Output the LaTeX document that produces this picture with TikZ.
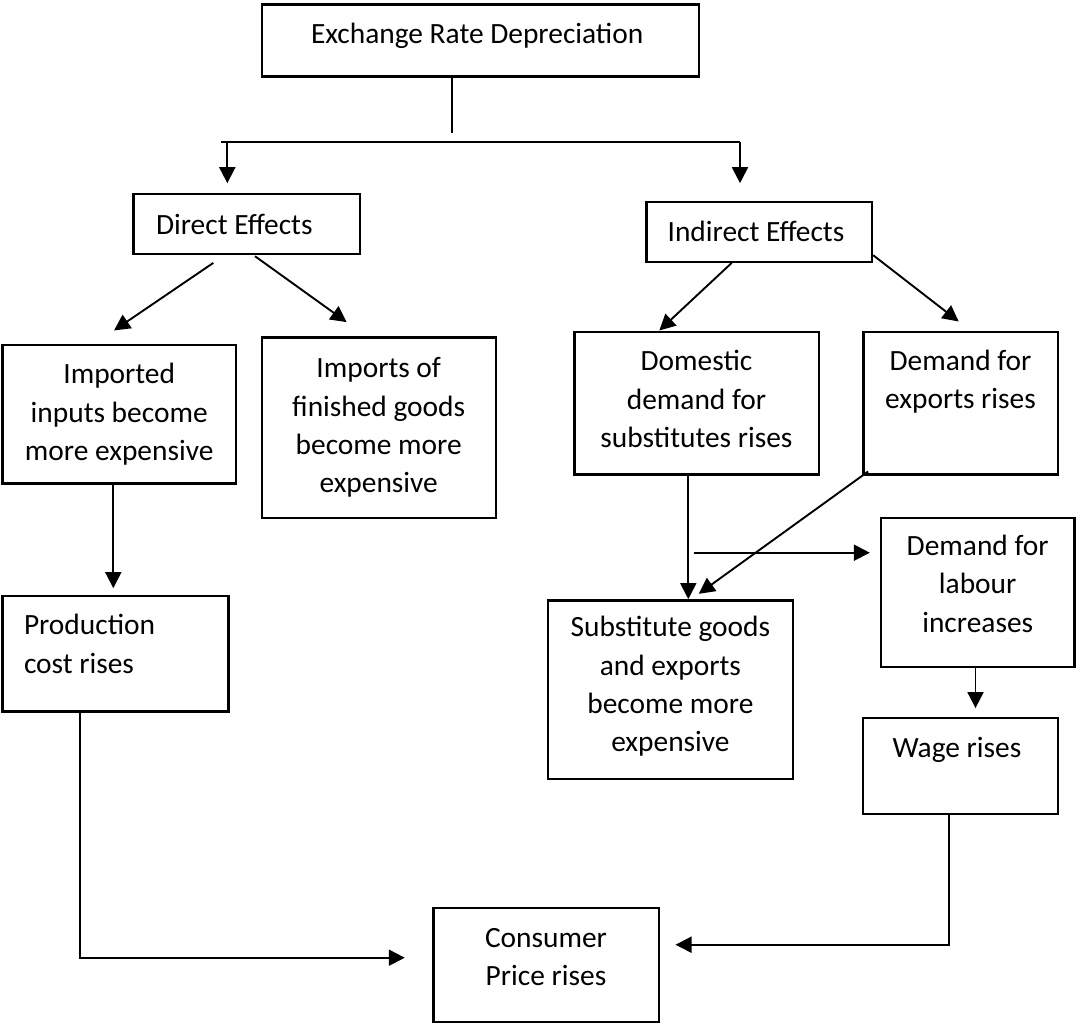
\documentclass[tikz,border=0pt]{standalone}
\usepackage{fontspec}
\setmainfont{Carlito}
\usetikzlibrary{arrows.meta}

\begin{document}
\begin{tikzpicture}[x=1pt, y=-1pt,
    % Node styles
    box/.style={rectangle, draw=black, line width=2.4pt, align=center,
                font=\fontsize{29.4pt}{38.3pt}\selectfont},
    leftbox/.style={box, align=flush left},
    line/.style={line width=1.9pt, black},
    arrow/.style={line width=1.9pt, ->, >={Triangle[length=16pt, width=16pt]}, black}
]
\useasboundingbox (0,0) rectangle (1076,1023);

% 1. Top box
\node[box, minimum width=437pt, minimum height=72pt, text depth=14.5pt] (exchange) at (480.5,40.5) {
    Exchange Rate Depreciation
};

% 2. Two kinds of effects
\node[leftbox, text width=181.3pt, inner xsep=22.7pt, minimum height=60pt] (direct) at (246.7,224) {
    Direct Effects
};
\node[box, minimum width=225.3pt, minimum height=60pt] (indirect) at (759.3,231.7) {
    Indirect Effects
};

% 3. Direct branch
\node[box, minimum width=233.7pt, minimum height=138.7pt] (inputs) at (119.2,414.3) {
    Imported\\inputs become\\more expensive
};
\node[box, minimum width=234pt, minimum height=180.4pt] (finished) at (378.7,427.5) {
    Imports of\\finished goods\\become more\\expensive
};
\node[leftbox, text width=182.6pt, inner xsep=21.7pt, minimum height=115.3pt, text depth=58.3pt] (prodcost) at (115.3,653.7) {
    Production\\cost rises
};

% 4. Indirect branch
\node[box, minimum width=244.4pt, minimum height=142.6pt, text depth=8.2pt] (domestic) at (696.5,403) {
    Domestic\\demand for\\substitutes rises
};
\node[box, minimum width=194.4pt, minimum height=142.6pt, text depth=47.5pt] (exports) at (960.5,403) {
    Demand for\\exports rises
};
\node[box, minimum width=244.7pt, minimum height=178.4pt, text depth=11pt] (substitute) at (670.4,689.5) {
    Substitute goods\\and exports\\become more\\expensive
};
\node[box, minimum width=193.3pt, minimum height=149.3pt, text depth=17.3pt] (labour) at (977.7,592.4) {
    Demand for\\labour\\increases
};
\node[box, minimum width=195pt, minimum height=96pt, text depth=36pt] (wage) at (960.2,765.7) {
    Wage rises
};

% 5. Final result
\node[box, minimum width=225.4pt, minimum height=114pt, text depth=16.1pt] (consumer) at (546,965) {
    Consumer\\Price rises
};

% Split below the top box
\coordinate (split) at (452.3,132.7);
\coordinate (barleft) at (221,141.7);
\coordinate (barright) at (740,141.7);
\draw[line] ([xshift=-28.2pt]exchange.south) -- (split);
\draw[line] (barleft) -- (barright);
\draw[arrow, shorten >=9.6pt] ([xshift=6.3pt]barleft) -- ([xshift=6.3pt]barleft |- direct.north);
\draw[arrow, shorten >=17.3pt] (barright) -- (barright |- indirect.north);

% Direct effects
\draw[arrow] ([xshift=-33.4pt, yshift=-7.7pt]direct.south) -- ([xshift=-5.2pt, yshift=13.3pt]inputs.north);
\draw[arrow] ([xshift=8.3pt, yshift=-1pt]direct.south) -- ([xshift=-32pt, yshift=14pt]finished.north);
\draw[arrow, shorten >=6.7pt] ([xshift=-5.9pt]inputs.south) -- ([xshift=-5.9pt]inputs.south |- prodcost.north);

% Indirect effects
\draw[arrow] ([xshift=-27.6pt]indirect.south) -- ([xshift=-37.2pt]domestic.north);
\draw[arrow] ([yshift=7.7pt]indirect.south east) -- ([xshift=-1.8pt, yshift=9pt]exports.north);
\draw[arrow] ([xshift=-8.2pt]domestic.south) -- ([xshift=-8.2pt]domestic.south |- substitute.north);
\draw[arrow] ([xshift=6pt, yshift=4pt]exports.south west) -- ([xshift=28.3pt, yshift=5.3pt]substitute.north);

% Labour market
\coordinate (branch) at (693.7,552.7);
\draw[arrow, shorten >=10pt] (branch) -- (branch -| labour.west);
\draw[arrow, shorten >=8.4pt] ([xshift=-2.2pt]labour.south) -- ([xshift=-2.2pt]labour.south |- wage.north);

% Into consumer prices
\draw[arrow] ([xshift=-35.3pt]prodcost.south) |- ([xshift=-27.3pt, yshift=7.3pt]consumer.west);
\draw[arrow] ([xshift=-11.5pt]wage.south) |- ([xshift=15.6pt, yshift=20.3pt]consumer.east);

\end{tikzpicture}
\end{document}
